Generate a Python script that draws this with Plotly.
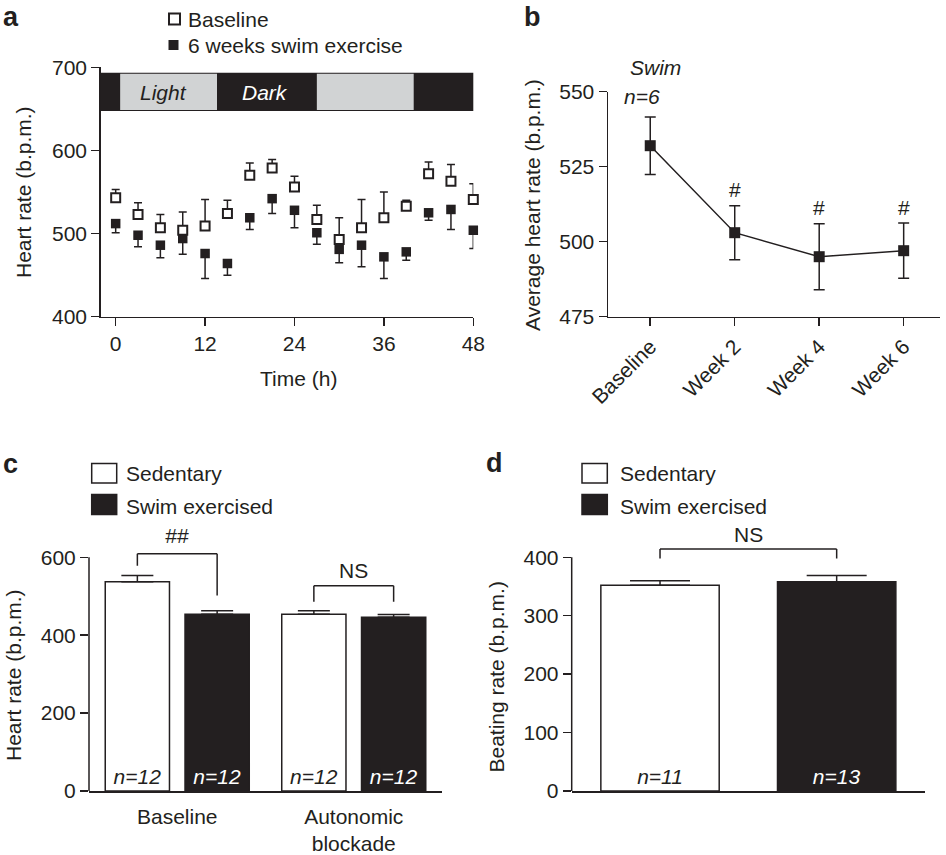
import plotly.graph_objects as go

W, H = 946, 855
INK = "#231f20"
GRAY = "#d1d3d4"
FONT = "Liberation Sans, Arial, sans-serif"
FS = 21


def fx(p):
    return p / W


def fy(p):
    return 1 - p / H


# ---------------- data ----------------
# Panel a: circadian heart rate
time_h = [0, 3, 6, 9, 12, 15, 18, 21, 24, 27, 30, 33, 36, 39, 42, 45, 48]
baseline_hr = [543, 523, 507, 504, 509, 524, 570, 579, 556, 517, 493, 507, 519, 533, 572, 563, 541]
baseline_sem = [10, 14, 16, 22, 32, 16, 15, 10, 13, 17, 26, 34, 31, 7, 14, 20, 19]
swim_hr = [512, 498, 486, 494, 476, 464, 519, 542, 528, 501, 481, 486, 472, 478, 525, 529, 504]
swim_sem = [11, 14, 15, 19, 30, 14, 14, 18, 21, 14, 16, 26, 26, 10, 9, 24, 22]
light_periods = [(0.6, 13.6), (27.0, 40.0)]
phase_labels = ["Light", "Dark"]
phase_label_x = [6.4, 20.0]

# Panel b: weekly average
weeks = ["Baseline", "Week 2", "Week 4", "Week 6"]
avg_hr = [532, 503, 495, 497]
avg_sem = [9.6, 9, 11, 9.2]
sig_b = ["", "#", "#", "#"]

# Panel c: in vivo heart rate
conditions = ["Baseline", "Autonomic<br>blockade"]
sed_hr_c = [537, 454]
sed_sem_c = [16, 9]
swim_hr_c = [454, 446]
swim_sem_c = [9, 7]
n_sed_c = ["n=12", "n=12"]
n_swim_c = ["n=12", "n=12"]
sig_c = ["##", "NS"]

# Panel d: beating rate
groups_d = ["Sedentary", "Swim exercised"]
beat_rate = [352, 358]
beat_sem = [8, 11]
n_d = ["n=11", "n=13"]
sig_d = "NS"

# ---------------- figure ----------------
fig = go.Figure()

err_style = dict(color=INK, thickness=1.5)

# Panel a
fig.add_trace(go.Scatter(
    x=time_h, y=swim_hr, mode="markers", xaxis="x", yaxis="y",
    marker=dict(symbol="square", size=9.5, color=INK, line=dict(width=0)),
    error_y=dict(type="data", symmetric=False, array=[0] * len(swim_sem),
                 arrayminus=swim_sem, width=4, **err_style),
    showlegend=False, cliponaxis=False))
fig.add_trace(go.Scatter(
    x=time_h, y=baseline_hr, mode="markers", xaxis="x", yaxis="y",
    marker=dict(symbol="square", size=9, color="white", line=dict(width=2, color=INK)),
    error_y=dict(type="data", symmetric=False, array=baseline_sem,
                 arrayminus=[0] * len(baseline_sem), width=4, **err_style),
    showlegend=False, cliponaxis=False))

# Panel b
fig.add_trace(go.Scatter(
    x=weeks, y=avg_hr, mode="lines+markers", xaxis="x2", yaxis="y2",
    line=dict(color=INK, width=1.5),
    marker=dict(symbol="square", size=11, color=INK),
    error_y=dict(type="data", array=avg_sem, width=5.5, **err_style),
    showlegend=False, cliponaxis=False))

# Panel c
BAR_W_C = 0.364
GROUP_OFF_C = 0.226
text_font = dict(family=FONT, size=FS, style="italic")
fig.add_trace(go.Bar(
    x=conditions, y=sed_hr_c, xaxis="x3", yaxis="y3",
    width=BAR_W_C, offset=-GROUP_OFF_C - BAR_W_C / 2,
    marker=dict(color="white", line=dict(color=INK, width=1.5)),
    error_y=dict(type="data", symmetric=False, array=sed_sem_c,
                 arrayminus=[0, 0], width=16, **err_style),
    text=n_sed_c, textposition="inside", insidetextanchor="start", textangle=0,
    textfont=dict(color=INK, **text_font), showlegend=False))
fig.add_trace(go.Bar(
    x=conditions, y=swim_hr_c, xaxis="x3", yaxis="y3",
    width=BAR_W_C, offset=GROUP_OFF_C - BAR_W_C / 2,
    marker=dict(color=INK, line=dict(color=INK, width=1.5)),
    error_y=dict(type="data", symmetric=False, array=swim_sem_c,
                 arrayminus=[0, 0], width=16, **err_style),
    text=n_swim_c, textposition="inside", insidetextanchor="start", textangle=0,
    textfont=dict(color="white", **text_font), showlegend=False))

# Panel d
BAR_W_D = 0.67
fig.add_trace(go.Bar(
    x=groups_d, y=beat_rate, xaxis="x4", yaxis="y4",
    width=BAR_W_D, offset=-BAR_W_D / 2,
    marker=dict(color=["white", INK], line=dict(color=INK, width=1.5)),
    error_y=dict(type="data", symmetric=False, array=beat_sem,
                 arrayminus=[0, 0], width=30, **err_style),
    text=n_d, textposition="inside", insidetextanchor="start", textangle=0,
    textfont=dict(color=[INK, "white"], **text_font), showlegend=False))

# ---------------- axes ----------------
tickfont = dict(family=FONT, size=FS, color=INK)
base_ax = dict(showline=True, linewidth=1.5, linecolor=INK, ticks="outside",
               ticklen=8, tickwidth=1.5, tickcolor=INK, showgrid=False,
               zeroline=False, tickfont=tickfont, fixedrange=True, automargin=False)

layout_axes = dict(
    xaxis=dict(base_ax, domain=[fx(100.7), fx(473.3)], range=[-2.01, 48], anchor="y",
               tickvals=[0, 12, 24, 36, 48]),
    yaxis=dict(base_ax, domain=[fy(316.7), fy(67.3)], range=[400, 700], anchor="x",
               tickvals=[400, 500, 600, 700]),
    xaxis2=dict(base_ax, domain=[fx(608), fx(940)], range=[-0.5, 3.43], anchor="y2",
                type="category", tickangle=-45),
    yaxis2=dict(base_ax, domain=[fy(316.7), fy(91.7)], range=[475, 550], anchor="x2",
                tickvals=[475, 500, 525, 550]),
    xaxis3=dict(base_ax, domain=[fx(89), fx(442)], range=[-0.5, 1.5], anchor="y3",
                type="category", ticks="", ticklabelstandoff=6),
    yaxis3=dict(base_ax, domain=[fy(791), fy(549.5)], range=[0, 620], anchor="x3",
                showline=False, tickvals=[0, 200, 400, 600]),
    xaxis4=dict(base_ax, domain=[fx(571.7), fx(925)], range=[-0.5, 1.5], anchor="y4",
                type="category", ticks="", showticklabels=False),
    yaxis4=dict(base_ax, domain=[fy(791), fy(545.6)], range=[0, 420], anchor="x4",
                showline=False, tickvals=[0, 100, 200, 300, 400]),
)

shapes = []
annotations = []


def ann(text, x, y, size=FS, xref="paper", yref="paper", xanchor="center",
        yanchor="middle", color=INK, italic=False, bold=False, angle=0, **kw):
    annotations.append(dict(
        text=text, x=x, y=y, xref=xref, yref=yref, xanchor=xanchor, yanchor=yanchor,
        showarrow=False, textangle=angle,
        font=dict(family=FONT, size=size, color=color,
                  style="italic" if italic else "normal",
                  weight="bold" if bold else "normal"), **kw))


# Panel a light/dark bar
shapes.append(dict(type="rect", xref="x domain", yref="y", x0=0, x1=1, y0=647.5, y1=693.5,
                   fillcolor=INK, line=dict(width=0), layer="above"))
for (s, e) in light_periods:
    shapes.append(dict(type="rect", xref="x", yref="y", x0=s, x1=e, y0=648.7, y1=692.3,
                       fillcolor=GRAY, line=dict(width=0), layer="above"))
ann(phase_labels[0], phase_label_x[0], 670, xref="x", yref="y", italic=True, color=INK)
ann(phase_labels[1], phase_label_x[1], 670, xref="x", yref="y", italic=True, color="white")

# Panel a legend
shapes.append(dict(type="rect", xref="paper", yref="paper", x0=fx(169), x1=fx(180),
                   y0=fy(24.5), y1=fy(13.5), line=dict(color=INK, width=2), fillcolor="white"))
shapes.append(dict(type="rect", xref="paper", yref="paper", x0=fx(168.5), x1=fx(178.5),
                   y0=fy(50), y1=fy(40), line=dict(width=0), fillcolor=INK))
ann("Baseline", fx(186), fy(19), xanchor="left")
ann("6 weeks swim exercise", fx(186), fy(45.5), xanchor="left")

# Panel labels
ann("a", fx(1), 1, size=27, bold=True, xanchor="left", yanchor="top")
ann("b", fx(522), 1, size=27, bold=True, xanchor="left", yanchor="top")
ann("c", fx(1), fy(464), size=27, bold=True, xanchor="left")
ann("d", fx(484), fy(463), size=27, bold=True, xanchor="left")

# Axis titles
ann("Heart rate (b.p.m.)", fx(23), fy(192), angle=-90)
ann("Time (h)", fx(298), fy(378))
ann("Average heart rate (b.p.m.)", fx(533), fy(205), angle=-90)
ann("Heart rate (b.p.m.)", fx(13), fy(675), angle=-90)
ann("Beating rate (b.p.m.)", fx(495.5), fy(677), angle=-90)

# Panel b annotations
ann("Swim", fx(655), fy(68), italic=True)
ann("n=6", fx(641.5), fy(97), italic=True)
for w, m, s, t in zip(weeks, avg_hr, avg_sem, sig_b):
    if t:
        ann(t, w, m + s, xref="x2", yref="y2", yshift=16)

# Panel c/d y-axis lines (stop at top tick)
shapes.append(dict(type="line", xref="x3 domain", yref="y3", x0=0, x1=0, y0=0, y1=600,
                   line=dict(color=INK, width=1.5)))
shapes.append(dict(type="line", xref="x4 domain", yref="y4", x0=0, x1=0, y0=0, y1=400,
                   line=dict(color=INK, width=1.5)))


def bracket(xref, yref, xl, xr, top, yl, yr):
    for (x0, y0, x1, y1) in [(xl, yl, xl, top), (xl, top, xr, top), (xr, top, xr, yr)]:
        shapes.append(dict(type="line", xref=xref, yref=yref, x0=x0, y0=y0, x1=x1, y1=y1,
                           line=dict(color=INK, width=1.5)))


# Panel c brackets
for i, lab in enumerate(sig_c):
    xl = i - GROUP_OFF_C
    xr = i + GROUP_OFF_C
    if i == 0:
        top, yl, yr, shift = 609, 578, 502, 18
    else:
        top, yl, yr, shift = 527, 486, 486, 15
    bracket("x3", "y3", xl, xr, top, yl, yr)
    ann(lab, (xl + xr) / 2, top, xref="x3", yref="y3", yshift=shift, italic=(lab == "##"))

# Panel d bracket
bracket("x4", "y4", 0, 1, 414, 398, 398)
ann(sig_d, 0.5, 414, xref="x4", yref="y4", yshift=15)

# Legends c and d
for (bx0, bx1, tx) in [(91.7, 116.7, 124), (582, 607.3, 617.7)]:
    shapes.append(dict(type="rect", xref="paper", yref="paper", x0=fx(bx0), x1=fx(bx1),
                       y0=fy(483), y1=fy(463.5), line=dict(color=INK, width=1.5),
                       fillcolor="white"))
    shapes.append(dict(type="rect", xref="paper", yref="paper", x0=fx(bx0), x1=fx(bx1),
                       y0=fy(514.5), y1=fy(494.5), line=dict(color=INK, width=1.5),
                       fillcolor=INK))
    ann("Sedentary", fx(tx), fy(473), xanchor="left")
    ann("Swim exercised", fx(tx), fy(507), xanchor="left")

fig.update_layout(
    template="none",
    width=W, height=H,
    margin=dict(l=0, r=0, t=0, b=0, pad=0),
    paper_bgcolor="white", plot_bgcolor="white",
    barmode="overlay",
    font=dict(family=FONT, size=FS, color=INK),
    shapes=shapes, annotations=annotations,
    **layout_axes,
)

fig.write_html(
    "out.html",
    config={"displayModeBar": False, "staticPlot": True},
    post_script="document.body.style.margin='0px';document.body.style.overflow='hidden';",
)
